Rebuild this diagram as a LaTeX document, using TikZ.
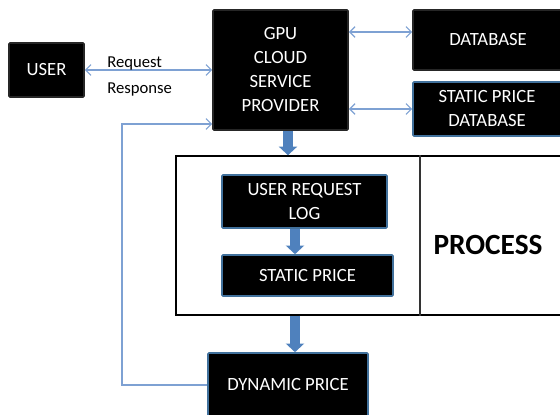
\documentclass[tikz,border=0pt]{standalone}
\usepackage{fontspec}
\setmainfont{Carlito}
\usetikzlibrary{arrows.meta,positioning,calc}
\definecolor{gcblue}{HTML}{41719C}
\definecolor{gcarrow}{HTML}{4F81BD}
\definecolor{gcline}{HTML}{7EA1D3}
\definecolor{gcedge}{HTML}{262626}
\tikzset{
  blkbox/.style={
    draw=#1, fill=black, text=white, line width=1.2pt,
    align=center, inner sep=0pt, rounded corners=0.8pt,
    font=\fontsize{14}{18}\selectfont
  },
  blkbox/.default=gcedge,
  procbox/.style={draw=black, line width=1.1pt, fill=white, inner sep=0pt},
  fatarr/.style={draw=gcarrow, line width=7.5pt,
    -{Triangle[width=13.5pt,length=6.5pt]}},
  thinarr/.style={draw=gcline, line width=0.9pt,
    -{Straight Barb[length=4pt,width=8pt]}},
  duplex/.style={draw=gcline, line width=0.9pt,
    {Straight Barb[length=4pt,width=8pt]}-{Straight Barb[length=4pt,width=8pt]}},
  lbl/.style={anchor=west, inner sep=0pt, font=\fontsize{12.5}{15}\selectfont}
}
\begin{document}
\begin{tikzpicture}[x=0.75pt, y=-0.75pt]
  \useasboundingbox (0,0) rectangle (560,414);

  % top row
  \node[blkbox, minimum width=56.25pt, minimum height=40.5pt] (user) at (46.5,70) {USER};
  \node[blkbox, minimum width=101.25pt, minimum height=90pt] (gpu) at (280.5,70)
    {GPU\\CLOUD\\SERVICE\\PROVIDER};
  \node[blkbox, minimum width=112.5pt, minimum height=45pt] (db) at (488,40) {DATABASE};
  \node[blkbox=gcblue, minimum width=111pt, minimum height=40.5pt] (spdb) at (487,109)
    {STATIC PRICE\\DATABASE};

  % process block
  \node[procbox, minimum width=289.5pt, minimum height=119.25pt] (proc) at (369,235.5) {};
  \coordinate (divx) at (420,0);
  \draw[line width=0.8pt, black!80] (proc.north -| divx) -- (proc.south -| divx);
  \node[font=\fontsize{22}{26}\selectfont\bfseries] (ptxt) at (488,245) {PROCESS};
  \node[blkbox=gcblue, minimum width=123.75pt, minimum height=39.75pt] (log) at (304.5,201.5)
    {USER REQUEST\\LOG};
  \node[blkbox=gcblue, minimum width=128.25pt, minimum height=30.75pt] (sp) at (307.5,275.5)
    {STATIC PRICE};

  \node[blkbox=gcblue, minimum width=120pt, minimum height=48pt] (dyn) at (288,385)
    {DYNAMIC PRICE};

  % connectors
  \draw[duplex] (user.east) -- (gpu.west);
  \node[lbl] (req) at (107,63) {Request};
  \node[lbl] (resp) at (107,89) {Response};
  \draw[duplex] (gpu.east |- 0,32) -- (db.west |- 0,32);
  \draw[duplex] (gpu.east |- spdb.west) -- (spdb.west);

  \draw[fatarr] (gpu.south -| 288,0) -- (proc.north -| 288,0);
  \draw[fatarr] (log.south -| 295,0) -- (sp.north -| 295,0);
  \draw[fatarr] (proc.south -| 295,0) -- (dyn.north -| 295,0);

  \coordinate (fbk) at (122,124);
  \draw[thinarr] (dyn.west) -| (fbk) -- (gpu.west |- fbk);
\end{tikzpicture}
\end{document}
